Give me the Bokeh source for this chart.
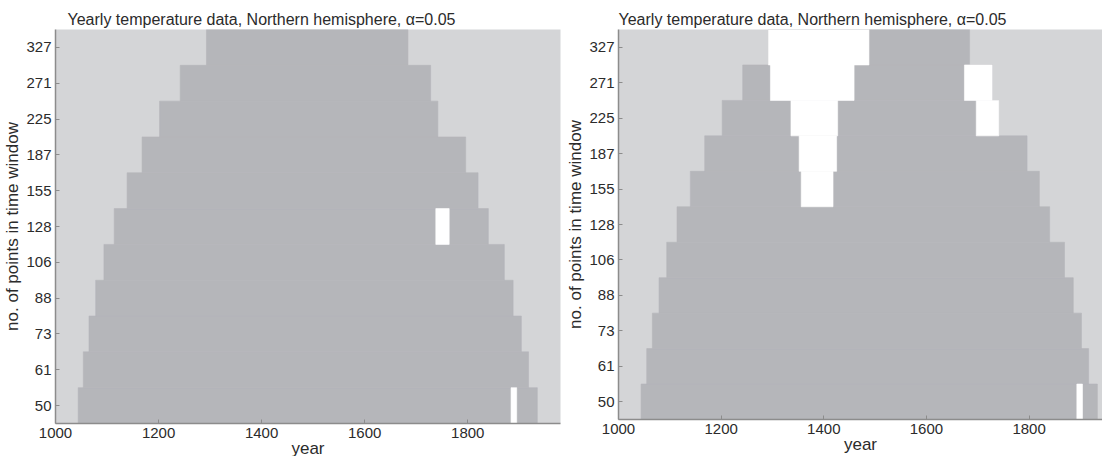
from bokeh.plotting import figure
from bokeh.layouts import row
from bokeh.models import FactorRange, Range1d, FixedTicker
from bokeh.embed import file_html
from bokeh.resources import INLINE

# ---------------- data ----------------
windows = ["50", "61", "73", "88", "106", "128", "155", "187", "225", "271", "327"]
year_ticks = [1000, 1200, 1400, 1600, 1800]
title_text = "Yearly temperature data, Northern hemisphere, \u03b1=0.05"

# left panel: significant span per window length, and non-significant gaps
left_sig_start = [1044, 1054, 1065, 1078, 1094, 1114, 1139, 1168, 1202, 1242, 1293]
left_sig_end = [1935, 1918, 1904, 1888, 1871, 1840, 1820, 1796, 1742, 1728, 1684]
left_gap_window = ["50", "128"]
left_gap_start = [1884, 1738]
left_gap_end = [1895, 1764]

# right panel
right_sig_start = [1044, 1055, 1066, 1079, 1094, 1114, 1140, 1168, 1202, 1242, 1292]
right_sig_end = [1933, 1916, 1902, 1886, 1869, 1840, 1820, 1796, 1741, 1728, 1684]
right_gap_window = ["50", "155", "187", "225", "225", "271", "271", "327"]
right_gap_start = [1893, 1356, 1352, 1336, 1697, 1296, 1674, 1292]
right_gap_end = [1904, 1418, 1425, 1427, 1741, 1459, 1728, 1488]

# ---------------- style ----------------
DARK = "#b5b6ba"
LIGHT = "#d4d5d7"
AXIS = "#8c8c8c"
TEXT = "#2b2b2b"
FONT = "Liberation Sans"


def make_panel(x_end, sig_start, sig_end, gap_window, gap_start, gap_end,
               frame_w, frame_h, b_left, b_top, b_right, t_offset):
    p = figure(
        x_range=Range1d(1000, x_end),
        y_range=FactorRange(*windows),
        frame_width=frame_w, frame_height=frame_h,
        min_border_left=b_left, min_border_top=b_top,
        min_border_right=b_right, min_border_bottom=20,
        output_backend="svg", toolbar_location=None,
        background_fill_color=LIGHT, border_fill_color="white",
        outline_line_color=None,
    )
    p.hbar(y=windows, left=sig_start, right=sig_end, height=1,
           fill_color=DARK, line_color=DARK, line_width=0.6)
    p.hbar(y=gap_window, left=gap_start, right=gap_end, height=1,
           fill_color="white", line_color="white", line_width=0.6)

    p.title.text = title_text
    p.title.text_font = FONT
    p.title.text_font_size = "16px"
    p.title.text_font_style = "normal"
    p.title.text_color = TEXT
    p.title.offset = t_offset
    p.title.standoff = 3

    p.xgrid.grid_line_color = None
    p.ygrid.grid_line_color = None

    p.xaxis.ticker = FixedTicker(ticks=year_ticks)
    p.xaxis.axis_label = "year"
    p.yaxis.axis_label = "no. of points in time window"
    for ax in (p.xaxis[0], p.yaxis[0]):
        ax.axis_line_color = AXIS
        ax.axis_line_width = 1.5
        ax.major_tick_line_color = AXIS
        ax.major_tick_line_width = 1
        ax.major_tick_in = 4
        ax.major_tick_out = 0
        ax.minor_tick_line_color = None
        ax.major_label_text_font = FONT
        ax.major_label_text_font_size = "15px"
        ax.major_label_text_color = TEXT
        ax.axis_label_text_font = FONT
        ax.axis_label_text_font_size = "17px"
        ax.axis_label_text_font_style = "normal"
        ax.axis_label_text_color = TEXT
        ax.major_label_standoff = 4
    p.xaxis.axis_label_standoff = -2
    p.yaxis.axis_label_standoff = 1
    return p


p1 = make_panel(1980, left_sig_start, left_sig_end,
                left_gap_window, left_gap_start, left_gap_end,
                505, 394, 51, 25, 3, 12)
p2 = make_panel(1943, right_sig_start, right_sig_end,
                right_gap_window, right_gap_start, right_gap_end,
                484, 390, 53, 29, 0, 0)

layout = row(p1, p2)
open("out.html", "w").write(file_html(layout, INLINE))
